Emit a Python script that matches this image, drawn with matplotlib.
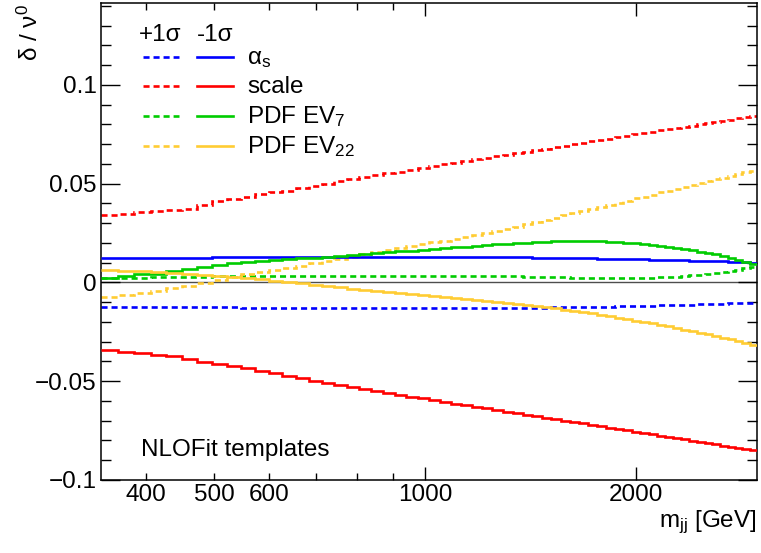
import numpy as np
import matplotlib
matplotlib.use("Agg")
import matplotlib.pyplot as plt
from matplotlib.ticker import FixedLocator, FixedFormatter, MultipleLocator
from matplotlib.lines import Line2D

plt.rcParams['font.family'] = ['Liberation Sans', 'DejaVu Sans']
plt.rcParams['mathtext.fontset'] = 'custom'
plt.rcParams['mathtext.rm'] = 'Liberation Sans'
plt.rcParams['mathtext.it'] = 'Liberation Sans:italic'
plt.rcParams['axes.unicode_minus'] = True

# ---------------- data ----------------
M_LO, M_HI, N_BINS = 345.0, 2975.0, 61
mjj_edges = np.linspace(M_LO ** 0.4, M_HI ** 0.4, N_BINS + 1) ** 2.5

scale_up = [0.0343, 0.0347, 0.0354, 0.0360, 0.0366, 0.0372, 0.0392, 0.0410, 0.0424, 0.0434,
            0.0445, 0.0456, 0.0465, 0.0477, 0.0489, 0.0500, 0.0512, 0.0523, 0.0533, 0.0542,
            0.0553, 0.0561, 0.0570, 0.0579, 0.0588, 0.0597, 0.0605, 0.0614, 0.0622, 0.0630,
            0.0638, 0.0646, 0.0654, 0.0662, 0.0669, 0.0677, 0.0684, 0.0692, 0.0700, 0.0707,
            0.0714, 0.0721, 0.0728, 0.0735, 0.0742, 0.0749, 0.0755, 0.0762, 0.0769, 0.0775,
            0.0781, 0.0788, 0.0794, 0.0801, 0.0806, 0.0812, 0.0818, 0.0824, 0.0830, 0.0836,
            0.0842]
scale_dn = [-0.0344, -0.0350, -0.0358, -0.0365, -0.0373, -0.0387, -0.0401, -0.0413, -0.0423, -0.0435,
            -0.0447, -0.0459, -0.0472, -0.0485, -0.0497, -0.0509, -0.0520, -0.0530, -0.0540, -0.0550,
            -0.0560, -0.0569, -0.0578, -0.0587, -0.0596, -0.0605, -0.0613, -0.0622, -0.0630, -0.0638,
            -0.0646, -0.0654, -0.0662, -0.0670, -0.0677, -0.0685, -0.0692, -0.0700, -0.0707, -0.0714,
            -0.0721, -0.0728, -0.0735, -0.0742, -0.0749, -0.0756, -0.0762, -0.0769, -0.0776, -0.0782,
            -0.0789, -0.0795, -0.0801, -0.0808, -0.0813, -0.0820, -0.0826, -0.0832, -0.0838, -0.0844,
            -0.0850]
as_dn = [0.0124, 0.0124, 0.0125, 0.0125, 0.0126, 0.0126, 0.0126, 0.0127, 0.0127, 0.0128,
         0.0128, 0.0128, 0.0129, 0.0129, 0.0130, 0.0130, 0.0130, 0.0130, 0.0131, 0.0131,
         0.0131, 0.0131, 0.0131, 0.0131, 0.0131, 0.0131, 0.0131, 0.0130, 0.0130, 0.0130,
         0.0129, 0.0129, 0.0128, 0.0127, 0.0126, 0.0125, 0.0125, 0.0124, 0.0123, 0.0122,
         0.0121, 0.0120, 0.0120, 0.0119, 0.0118, 0.0117, 0.0116, 0.0115, 0.0114, 0.0113,
         0.0112, 0.0111, 0.0110, 0.0109, 0.0108, 0.0107, 0.0106, 0.0105, 0.0103, 0.0102,
         0.0100]
as_up = [-0.0124, -0.0124, -0.0125, -0.0125, -0.0126, -0.0126, -0.0126, -0.0127, -0.0127, -0.0128,
         -0.0128, -0.0128, -0.0128, -0.0129, -0.0129, -0.0129, -0.0129, -0.0130, -0.0130, -0.0130,
         -0.0130, -0.0130, -0.0131, -0.0131, -0.0131, -0.0131, -0.0131, -0.0131, -0.0130, -0.0130,
         -0.0130, -0.0130, -0.0129, -0.0129, -0.0128, -0.0128, -0.0127, -0.0126, -0.0125, -0.0125,
         -0.0124, -0.0123, -0.0122, -0.0121, -0.0120, -0.0119, -0.0118, -0.0117, -0.0116, -0.0115,
         -0.0114, -0.0113, -0.0112, -0.0111, -0.0110, -0.0109, -0.0108, -0.0106, -0.0105, -0.0104,
         -0.0102]
ev7_dn = [0.0022, 0.0030, 0.0040, 0.0044, 0.0056, 0.0068, 0.0080, 0.0090, 0.0097, 0.0103,
          0.0109, 0.0113, 0.0117, 0.0121, 0.0126, 0.0131, 0.0135, 0.0139, 0.0144, 0.0148,
          0.0153, 0.0157, 0.0161, 0.0165, 0.0169, 0.0173, 0.0177, 0.0181, 0.0184, 0.0188,
          0.0192, 0.0195, 0.0198, 0.0201, 0.0203, 0.0205, 0.0207, 0.0208, 0.0209, 0.0209,
          0.0209, 0.0208, 0.0206, 0.0203, 0.0200, 0.0197, 0.0193, 0.0189, 0.0184, 0.0179,
          0.0174, 0.0168, 0.0162, 0.0156, 0.0150, 0.0142, 0.0134, 0.0125, 0.0115, 0.0104,
          0.0091]
ev7_up = [0.0020, 0.0022, 0.0024, 0.0026, 0.0027, 0.0028, 0.0029, 0.0030, 0.0030, 0.0031,
          0.0031, 0.0032, 0.0032, 0.0033, 0.0033, 0.0033, 0.0034, 0.0034, 0.0034, 0.0034,
          0.0034, 0.0034, 0.0034, 0.0034, 0.0034, 0.0034, 0.0033, 0.0033, 0.0033, 0.0033,
          0.0032, 0.0031, 0.0030, 0.0029, 0.0028, 0.0027, 0.0026, 0.0025, 0.0024, 0.0023,
          0.0022, 0.0022, 0.0022, 0.0021, 0.0021, 0.0021, 0.0022, 0.0023, 0.0025, 0.0027,
          0.0029, 0.0032, 0.0035, 0.0039, 0.0043, 0.0048, 0.0053, 0.0059, 0.0065, 0.0072,
          0.0080]
ev22_dn = [0.0064, 0.0060, 0.0056, 0.0052, 0.0048, 0.0043, 0.0038, 0.0033, 0.0027, 0.0021,
           0.0015, 0.0009, 0.0002, -0.0005, -0.0012, -0.0019, -0.0025, -0.0031, -0.0037, -0.0043,
           -0.0049, -0.0054, -0.0060, -0.0065, -0.0070, -0.0075, -0.0080, -0.0085, -0.0090, -0.0095,
           -0.0100, -0.0105, -0.0110, -0.0115, -0.0120, -0.0126, -0.0132, -0.0138, -0.0144, -0.0150,
           -0.0157, -0.0164, -0.0171, -0.0178, -0.0185, -0.0193, -0.0200, -0.0207, -0.0215, -0.0223,
           -0.0231, -0.0239, -0.0247, -0.0255, -0.0263, -0.0271, -0.0279, -0.0288, -0.0297, -0.0306,
           -0.0316]
ev22_up = [-0.0074, -0.0064, -0.0054, -0.0044, -0.0030, -0.0016, -0.0002, 0.0012, 0.0026, 0.0040,
           0.0053, 0.0064, 0.0074, 0.0085, 0.0097, 0.0109, 0.0120, 0.0131, 0.0142, 0.0153,
           0.0165, 0.0175, 0.0184, 0.0193, 0.0202, 0.0212, 0.0221, 0.0230, 0.0239, 0.0248,
           0.0258, 0.0270, 0.0282, 0.0294, 0.0305, 0.0317, 0.0328, 0.0340, 0.0350, 0.0361,
           0.0372, 0.0383, 0.0394, 0.0404, 0.0414, 0.0425, 0.0434, 0.0444, 0.0455, 0.0464,
           0.0474, 0.0484, 0.0493, 0.0503, 0.0511, 0.0521, 0.0529, 0.0539, 0.0547, 0.0557,
           0.0565]

sources = ["α$_{\\mathrm{s}}$", "scale", "PDF EV$_{7}$", "PDF EV$_{22}$"]
ups = [as_up, scale_up, ev7_up, ev22_up]
dns = [as_dn, scale_dn, ev7_dn, ev22_dn]
colors = ["#0000ff", "#ff0000", "#00cc00", "#ffcc33"]

x_major = [1000, 2000]
x_minor = [400, 500, 600, 700, 800, 900]
x_minor_labels = ["400", "500", "600", "", "", ""]

# ---------------- figure ----------------
W, H = 761, 553
fig = plt.figure(figsize=(W / 100, H / 100), dpi=100)
L, R, T, B = 101, 757, 3, 480
ax = fig.add_axes([L / W, 1 - B / H, (R - L) / W, (B - T) / H])

def AX(px):
    return (px - L) / (R - L)

def AY(py):
    return (B - py) / (B - T)

LW = 1.9
DASH = (0, (2.3, 1.5))

ax.axhline(0, color="0.3", lw=1.0, zorder=1)
for up, dn, c in zip(ups, dns, colors):
    ax.stairs(up, mjj_edges, baseline=None, color=c, lw=LW, linestyle=DASH, zorder=2)
    ax.stairs(dn, mjj_edges, baseline=None, color=c, lw=LW, zorder=3)

ax.set_xscale("log")
ax.set_xlim(M_LO, M_HI)
ax.set_ylim(-0.1, 0.1414)

ax.xaxis.set_major_locator(FixedLocator(x_major))
ax.xaxis.set_major_formatter(FixedFormatter([str(v) for v in x_major]))
ax.xaxis.set_minor_locator(FixedLocator(x_minor))
ax.xaxis.set_minor_formatter(FixedFormatter(x_minor_labels))

ax.yaxis.set_major_locator(FixedLocator([-0.1, -0.05, 0, 0.05, 0.1]))
ax.yaxis.set_major_formatter(FixedFormatter(["\u22120.1", "\u22120.05", "0", "0.05", "0.1"]))
ax.yaxis.set_minor_locator(MultipleLocator(0.01))

FS = 17.5
ax.tick_params(axis="both", which="both", direction="in", top=True, right=True,
               labelsize=FS, width=1.0, color="black")
ax.tick_params(axis="x", which="major", length=9.5, pad=3)
ax.tick_params(axis="x", which="minor", length=5.0, pad=3)
ax.tick_params(axis="y", which="major", length=14, pad=3)
ax.tick_params(axis="y", which="minor", length=7, pad=3)
for s in ax.spines.values():
    s.set_linewidth(1.1)

# axis titles
fig.text(30 / W, 1 - 4 / H, "δ / ν$^{0}$", rotation=90, ha="center", va="top", fontsize=FS)
fig.text(757 / W, 1 - 527 / H, "m$_{\\mathrm{jj}}$ [GeV]", ha="right", va="baseline", fontsize=FS)

# legend (hand-laid like ROOT)
ax.text(AX(160), AY(41), "+1σ", ha="center", va="baseline", fontsize=FS, transform=ax.transAxes)
ax.text(AX(215), AY(41), "-1σ", ha="center", va="baseline", fontsize=FS, transform=ax.transAxes)
rows = [57, 86, 116, 146]
for lab, c, ry in zip(sources, colors, rows):
    ax.add_line(Line2D([AX(143), AX(179)], [AY(ry), AY(ry)], color=c, lw=LW,
                       linestyle=DASH, transform=ax.transAxes))
    ax.add_line(Line2D([AX(197), AX(233)], [AY(ry), AY(ry)], color=c, lw=LW,
                       transform=ax.transAxes))
    ax.text(AX(247), AY(ry + 7), lab, ha="left", va="baseline", fontsize=FS,
            transform=ax.transAxes)

ax.text(AX(141), AY(456), "NLOFit templates", ha="left", va="baseline", fontsize=FS,
        transform=ax.transAxes)

fig.savefig("out.png", dpi=100)
